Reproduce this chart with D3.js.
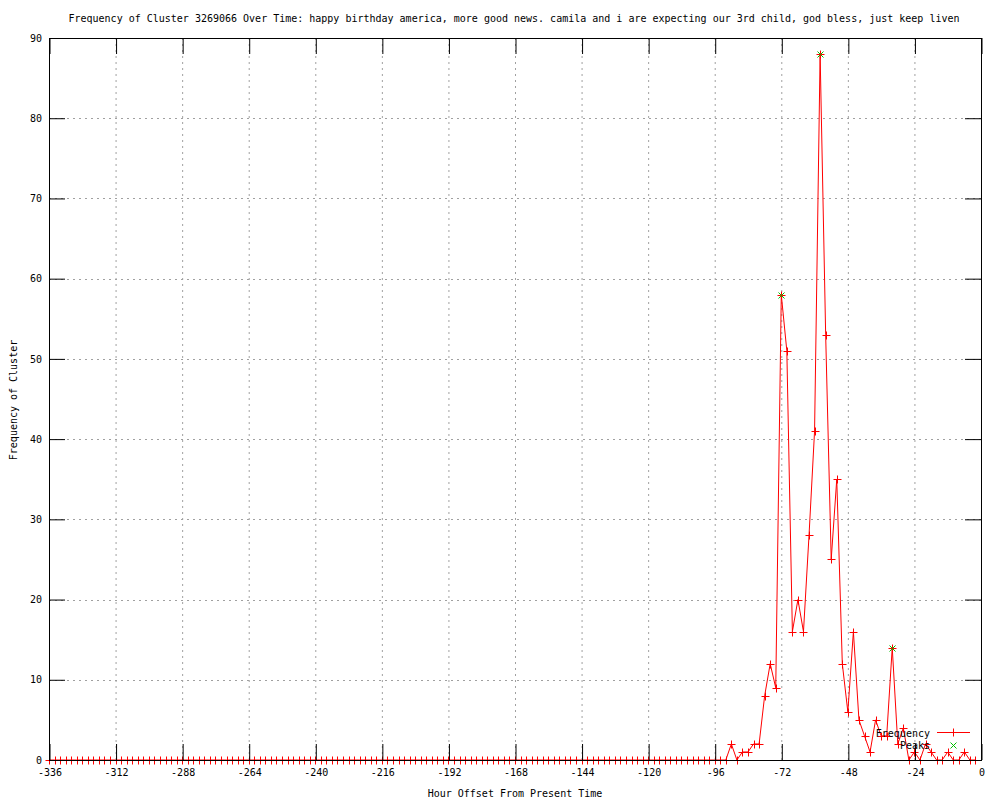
<!DOCTYPE html>
<html>
<head>
    <meta charset="utf-8">
    <title>Frequency of Cluster 3269066</title>
    <script src="https://d3js.org/d3.v7.min.js"></script>
    <style>
        body { margin: 0; background: white; }
        text { font-family: "DejaVu Sans Mono", monospace; font-size: 10px; fill: black; }
    </style>
</head>
<body>
    <div id="chart"></div>

    <script>
        const titleText = "Frequency of Cluster 3269066 Over Time: happy birthday america, more good news. camila and i are expecting our 3rd child, god bless, just keep liven";
        const xLabel = "Hour Offset From Present Time";
        const yLabel = "Frequency of Cluster";

        // hour offsets, one point every 2 hours from -336 to -2
        const hours = d3.range(-336, 0, 2);
        const frequency = [
            0, 0, 0, 0, 0, 0, 0, 0, 0, 0, 0, 0,   // -336 .. -314
            0, 0, 0, 0, 0, 0, 0, 0, 0, 0, 0, 0,   // -312 .. -290
            0, 0, 0, 0, 0, 0, 0, 0, 0, 0, 0, 0,   // -288 .. -266
            0, 0, 0, 0, 0, 0, 0, 0, 0, 0, 0, 0,   // -264 .. -242
            0, 0, 0, 0, 0, 0, 0, 0, 0, 0, 0, 0,   // -240 .. -218
            0, 0, 0, 0, 0, 0, 0, 0, 0, 0, 0, 0,   // -216 .. -194
            0, 0, 0, 0, 0, 0, 0, 0, 0, 0, 0, 0,   // -192 .. -170
            0, 0, 0, 0, 0, 0, 0, 0, 0, 0, 0, 0,   // -168 .. -146
            0, 0, 0, 0, 0, 0, 0, 0, 0, 0, 0, 0,   // -144 .. -122
            0, 0, 0, 0, 0, 0, 0, 0, 0, 0, 0, 0,   // -120 .. -98
            0, 0, 0, 2, 0, 1, 1, 2, 2, 8, 12, 9,  // -96 .. -74
            58, 51, 16, 20, 16, 28, 41, 88, 53, 25, 35, 12, // -72 .. -50
            6, 16, 5, 3, 1, 5, 3, 3, 14, 2, 4, 0, // -48 .. -26
            1, 0, 2, 1, 0, 0, 1, 0, 0, 1, 0, 0    // -24 .. -2
        ];

        const peakHours = [-72, -58, -32];
        const peakValues = [58, 88, 14];

        const xTicks = d3.range(-336, 1, 24);
        const yTicks = d3.range(0, 91, 10);

        const width = 1000, height = 800;
        const margin = { top: 38, right: 19, bottom: 40, left: 49 };

        const svg = d3.select("#chart").append("svg")
            .attr("width", width)
            .attr("height", height);

        const x = d3.scaleLinear().domain([-336, 0]).range([margin.left, width - margin.right]);
        const y = d3.scaleLinear().domain([0, 90]).range([height - margin.bottom, margin.top]);

        const tickLen = 16;
        const plainNum = d => String(d);   // keep ASCII hyphen like the original

        // grid
        svg.append("g").selectAll("line.vg")
            .data(xTicks.slice(1, -1))
            .enter().append("line")
            .attr("x1", d => x(d) + 0.5).attr("x2", d => x(d) + 0.5)
            .attr("y1", y(0)).attr("y2", y(90))
            .attr("stroke", "#a0a0a0").attr("stroke-dasharray", "2,4");
        svg.append("g").selectAll("line.hg")
            .data(yTicks.slice(1, -1))
            .enter().append("line")
            .attr("x1", x(-336)).attr("x2", x(0))
            .attr("y1", d => Math.round(y(d)) + 0.5).attr("y2", d => Math.round(y(d)) + 0.5)
            .attr("stroke", "#a0a0a0").attr("stroke-dasharray", "2,4");

        // data line
        const data = hours.map((h, i) => ({ h, v: frequency[i] }));
        const line = d3.line().x(d => x(d.h)).y(d => y(d.v));
        svg.append("path")
            .datum(data)
            .attr("d", line)
            .attr("fill", "none")
            .attr("stroke", "#ff0000")
            .attr("stroke-width", 1);

        const plusPath = (cx, cy, r) => `M${cx - r},${cy}H${cx + r}M${cx},${cy - r}V${cy + r}`;
        const crossPath = (cx, cy, r) => `M${cx - r},${cy - r}L${cx + r},${cy + r}M${cx - r},${cy + r}L${cx + r},${cy - r}`;

        svg.append("g").selectAll("path")
            .data(data)
            .enter().append("path")
            .attr("d", d => plusPath(Math.round(x(d.h)) + 0.5, Math.round(y(d.v)) + 0.5, 4))
            .attr("stroke", "#ff0000")
            .attr("fill", "none");

        // peaks
        svg.append("g").selectAll("path")
            .data(peakHours.map((h, i) => ({ h, v: peakValues[i] })))
            .enter().append("path")
            .attr("d", d => crossPath(Math.round(x(d.h)) + 0.5, Math.round(y(d.v)) + 0.5, 3))
            .attr("stroke", "#00c000")
            .attr("fill", "none");

        // axes (ticks inside, mirrored)
        const axisBottomG = svg.append("g").attr("transform", `translate(0.5,${y(0)})`)
            .call(d3.axisBottom(x).tickValues(xTicks).tickFormat(plainNum)
                .tickSizeInner(-tickLen).tickSizeOuter(0).tickPadding(9));
        const axisTopG = svg.append("g").attr("transform", `translate(0.5,${y(90)})`)
            .call(d3.axisTop(x).tickValues(xTicks).tickSizeInner(-tickLen).tickSizeOuter(0).tickFormat(""));
        const axisLeftG = svg.append("g").attr("transform", `translate(${x(-336)},0)`)
            .call(d3.axisLeft(y).tickValues(yTicks).tickFormat(plainNum)
                .tickSizeInner(-tickLen).tickSizeOuter(0).tickPadding(7));
        const axisRightG = svg.append("g").attr("transform", `translate(${x(0)},0)`)
            .call(d3.axisRight(y).tickValues(yTicks).tickSizeInner(-tickLen).tickSizeOuter(0).tickFormat(""));
        [axisBottomG, axisTopG, axisLeftG, axisRightG].forEach(g => {
            g.select(".domain").remove();
            g.selectAll("text").attr("font-family", "DejaVu Sans Mono").attr("font-size", 10);
        });
        svg.selectAll(".tick line").attr("stroke", "black");

        // border
        svg.append("rect")
            .attr("x", x(-336) + 0.5).attr("y", y(90) + 0.5)
            .attr("width", x(0) - x(-336)).attr("height", y(0) - y(90))
            .attr("fill", "none").attr("stroke", "black");

        // titles
        svg.append("text")
            .attr("x", 514).attr("y", 22)
            .attr("text-anchor", "middle")
            .text(titleText);
        svg.append("text")
            .attr("x", 515).attr("y", 797)
            .attr("text-anchor", "middle")
            .text(xLabel);
        svg.append("text")
            .attr("transform", "translate(17,400) rotate(-90)")
            .attr("text-anchor", "middle")
            .text(yLabel);

        // legend
        const lx = 953;
        svg.append("text").attr("x", 930).attr("y", 737).attr("text-anchor", "end").text("Frequency");
        svg.append("line").attr("x1", 937).attr("x2", 970).attr("y1", 732.5).attr("y2", 732.5)
            .attr("stroke", "#ff0000");
        svg.append("path").attr("d", plusPath(lx + 0.5, 732.5, 4)).attr("stroke", "#ff0000");
        svg.append("text").attr("x", 930).attr("y", 749).attr("text-anchor", "end").text("Peaks");
        svg.append("path").attr("d", crossPath(lx + 0.5, 745.5, 3)).attr("stroke", "#00c000");
    </script>
</body>
</html>
